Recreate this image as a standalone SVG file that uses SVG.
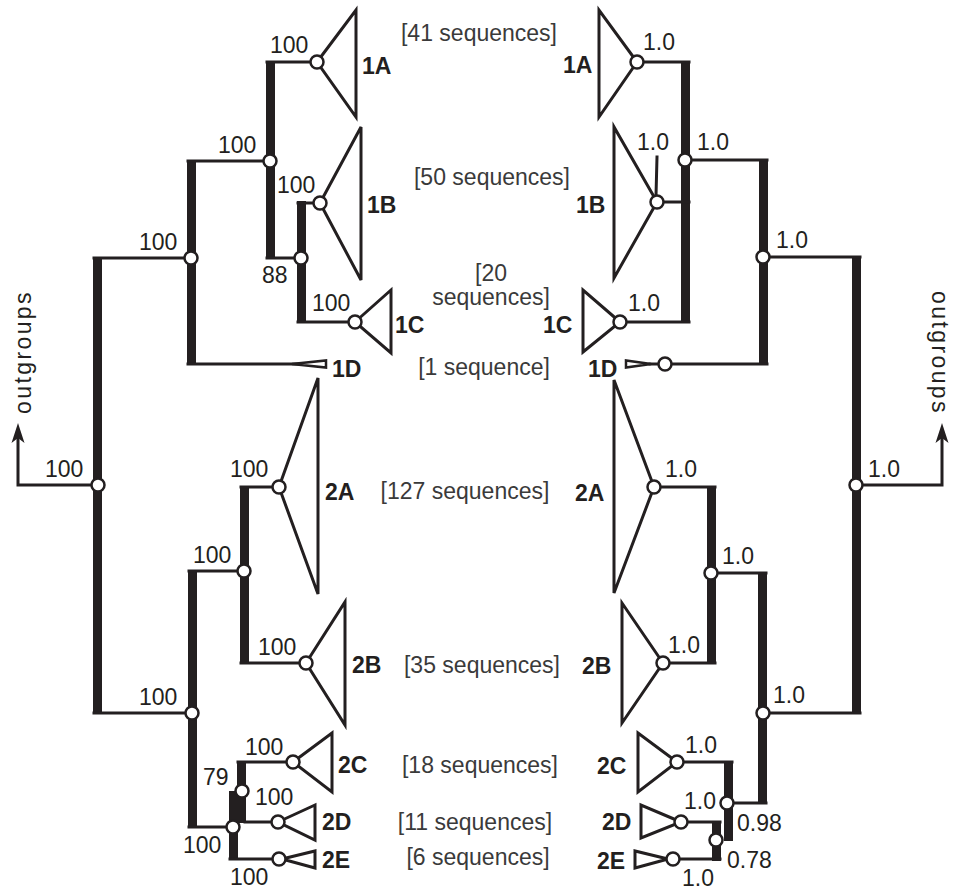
<svg xmlns="http://www.w3.org/2000/svg" width="954" height="893" viewBox="0 0 954 893">
<style>
.ln{stroke:#231f20;stroke-width:3;fill:none;stroke-linecap:square}
.bar{fill:#231f20}
.tri{fill:#fff;stroke:#231f20;stroke-width:3;stroke-linejoin:miter}
.nd{fill:#fff;stroke:#231f20;stroke-width:2.5}
text{font-family:"Liberation Sans",Arial,Helvetica,sans-serif;font-size:23px;fill:#231f20}
.b{font-weight:bold}
.s{fill:#3a3a3a;text-anchor:middle}
.e{text-anchor:end}
.og{font-size:23px;letter-spacing:2.4px;text-anchor:middle}
</style>
<defs>
<marker id="arr" markerUnits="userSpaceOnUse" viewBox="-16 -8 24 16" refX="0" refY="0" markerWidth="24" markerHeight="16" orient="auto">
<path d="M7,0 L-13,-6.5 L-8,0 L-13,6.5 Z" fill="#231f20"/>
</marker>
</defs>
<rect width="954" height="893" fill="#fff"/>

<g id="connectors">
<rect class="bar" x="266" y="61" width="9" height="198"/>
<rect class="bar" x="297" y="201" width="9" height="122"/>
<rect class="bar" x="187" y="160" width="9" height="205"/>
<rect class="bar" x="93" y="257" width="9" height="457"/>
<rect class="bar" x="240" y="486" width="9" height="178"/>
<rect class="bar" x="188" y="570" width="9" height="258"/>
<rect class="bar" x="237" y="761" width="9" height="62"/>
<rect class="bar" x="229" y="791" width="9" height="69"/>
<path class="ln" d="M267,62H317 M267,258H301 M298,203H320 M298,322H355 M188,161H270 M188,364H300 M94,258H191 M94,713H192 M241,487H279 M241,663H306 M189,571H244 M189,827H233 M238,762H293 M245,822H278 M230,859H279"/>
<path class="ln" d="M98,485H18V430" marker-end="url(#arr)" style="stroke-linecap:butt"/>
<rect class="bar" x="681" y="61" width="9" height="262"/>
<rect class="bar" x="759" y="159" width="9" height="206"/>
<rect class="bar" x="852" y="256" width="9" height="458"/>
<rect class="bar" x="707" y="486" width="9" height="178"/>
<rect class="bar" x="758" y="572" width="9" height="232"/>
<rect class="bar" x="724" y="761" width="9" height="80"/>
<rect class="bar" x="712" y="821" width="9" height="40"/>
<path class="ln" d="M637,62H689 M657,202H689 M620,322H689 M685,160H767 M650,364H767 M763,257H860 M763,713H860 M654,487H715 M663,663H715 M711,573H766 M677,762H732 M727,803H766 M681,822H720 M673,859H720 M657,157L656,196"/>
<path class="ln" d="M856,485H942V430" marker-end="url(#arr)" style="stroke-linecap:butt"/>
</g>

<g id="L1A"><polygon class="tri" points="317,62 356,10 356,117"/><text class="b" x="362" y="74">1A</text></g>
<g id="L1B"><polygon class="tri" points="320,203 361,127 361,280"/><text class="b" x="367" y="213">1B</text></g>
<g id="L1C"><polygon class="tri" points="355,322 391,290 391,353"/><text class="b" x="395" y="333">1C</text></g>
<g id="L1D"><polygon class="tri" points="292,364 326,360.5 326,367.5" style="stroke-width:2.5"/><text class="b" x="332" y="377">1D</text></g>
<g id="L2A"><polygon class="tri" points="279,487 318,378 318,594"/><text class="b" x="325" y="500">2A</text></g>
<g id="L2B"><polygon class="tri" points="306,663 345,602 345,725"/><text class="b" x="352" y="673">2B</text></g>
<g id="L2C"><polygon class="tri" points="293,762 332,733 332,792"/><text class="b" x="338" y="773">2C</text></g>
<g id="L2D"><polygon class="tri" points="278,822 315,805 315,840"/><text class="b" x="322" y="830">2D</text></g>
<g id="L2E"><polygon class="tri" points="282,859 315,851 315,868"/><text class="b" x="322" y="868">2E</text></g>

<g id="R1A"><polygon class="tri" points="637,62 599,10 599,117"/><text class="b" x="563" y="73">1A</text></g>
<g id="R1B"><polygon class="tri" points="657,202 614,127 614,278"/><text class="b" x="576" y="213">1B</text></g>
<g id="R1C"><polygon class="tri" points="620,322 583,290 583,352"/><text class="b" x="543" y="333">1C</text></g>
<g id="R1D"><polygon class="tri" points="651,364 626,360.5 626,367.5" style="stroke-width:2.5"/><text class="b" x="588" y="377">1D</text></g>
<g id="R2A"><polygon class="tri" points="654,487 614,380 614,593"/><text class="b" x="575" y="501">2A</text></g>
<g id="R2B"><polygon class="tri" points="663,663 622,603 622,723"/><text class="b" x="582" y="674">2B</text></g>
<g id="R2C"><polygon class="tri" points="677,762 638,733 638,792"/><text class="b" x="597" y="774">2C</text></g>
<g id="R2D"><polygon class="tri" points="681,822 641,805 641,838"/><text class="b" x="602" y="830">2D</text></g>
<g id="R2E"><polygon class="tri" points="668,859 635,851 635,868"/><text class="b" x="597" y="869">2E</text></g>

<g id="counts">
<text class="s" x="479" y="41">[41 sequences]</text>
<text class="s" x="492" y="185">[50 sequences]</text>
<text class="s" x="491" y="281">[20</text>
<text class="s" x="491" y="305">sequences]</text>
<text class="s" x="484" y="375">[1 sequence]</text>
<text class="s" x="465" y="499">[127 sequences]</text>
<text class="s" x="482" y="673">[35 sequences]</text>
<text class="s" x="480" y="773">[18 sequences]</text>
<text class="s" x="475" y="830">[11 sequences]</text>
<text class="s" x="478" y="865">[6 sequences]</text>
</g>

<g id="outL"><text class="og" transform="translate(31,352) rotate(-90)">outgroups</text></g>
<g id="outR"><text class="og" transform="translate(932,353) rotate(90)">outgroups</text></g>

<g id="nL1A"><circle class="nd" cx="317" cy="62" r="6.5"/><text x="270" y="53">100</text></g>
<g id="nL1AB"><circle class="nd" cx="270" cy="161" r="6.5"/><text x="218" y="153">100</text></g>
<g id="nL1B"><circle class="nd" cx="320" cy="203" r="6.5"/><text x="277" y="193">100</text></g>
<g id="nL88"><circle class="nd" cx="301" cy="258" r="6.5"/><text x="262" y="283">88</text></g>
<g id="nL1C"><circle class="nd" cx="355" cy="322" r="6.5"/><text x="312" y="311">100</text></g>
<g id="nL1"><circle class="nd" cx="191" cy="258" r="6.5"/><text x="139" y="250">100</text></g>
<g id="nLroot"><circle class="nd" cx="98" cy="485" r="6.5"/><text x="45" y="477">100</text></g>
<g id="nL2A"><circle class="nd" cx="279" cy="487" r="6.5"/><text x="230" y="477">100</text></g>
<g id="nL2AB"><circle class="nd" cx="244" cy="571" r="6.5"/><text x="193" y="563">100</text></g>
<g id="nL2B"><circle class="nd" cx="306" cy="663" r="6.5"/><text x="258" y="655">100</text></g>
<g id="nL2"><circle class="nd" cx="192" cy="713" r="6.5"/><text x="139" y="705">100</text></g>
<g id="nL2C"><circle class="nd" cx="293" cy="762" r="6.5"/><text x="245" y="755">100</text></g>
<g id="nL79"><circle class="nd" cx="242" cy="791" r="6.5"/><text x="203" y="785">79</text></g>
<g id="nL2D"><circle class="nd" cx="278" cy="822" r="6.5"/><text x="255" y="805">100</text></g>
<g id="nL2CDE"><circle class="nd" cx="233" cy="827" r="6.5"/><text x="183" y="853">100</text></g>
<g id="nL2E"><circle class="nd" cx="279" cy="859" r="6.5"/><text x="230" y="885">100</text></g>

<g id="nR1A"><circle class="nd" cx="637" cy="62" r="6.5"/><text x="643" y="50">1.0</text></g>
<g id="nR1B"><circle class="nd" cx="657" cy="202" r="6.5"/><text x="637" y="150">1.0</text></g>
<g id="nR1AB"><circle class="nd" cx="685" cy="160" r="6.5"/><text x="697" y="150">1.0</text></g>
<g id="nR1C"><circle class="nd" cx="620" cy="322" r="6.5"/><text x="628" y="311">1.0</text></g>
<g id="nR1D"><circle class="nd" cx="665" cy="364" r="6.5"/></g>
<g id="nR1"><circle class="nd" cx="763" cy="257" r="6.5"/><text x="776" y="248">1.0</text></g>
<g id="nRroot"><circle class="nd" cx="856" cy="485" r="6.5"/><text x="868" y="477">1.0</text></g>
<g id="nR2A"><circle class="nd" cx="654" cy="487" r="6.5"/><text x="665" y="477">1.0</text></g>
<g id="nR2AB"><circle class="nd" cx="711" cy="573" r="6.5"/><text x="722" y="564">1.0</text></g>
<g id="nR2B"><circle class="nd" cx="663" cy="663" r="6.5"/><text x="668" y="653">1.0</text></g>
<g id="nR2"><circle class="nd" cx="763" cy="713" r="6.5"/><text x="773" y="703">1.0</text></g>
<g id="nR2C"><circle class="nd" cx="677" cy="762" r="6.5"/><text x="685" y="753">1.0</text></g>
<g id="nR2CDE"><circle class="nd" cx="727" cy="803" r="6.5"/><text class="e" x="716" y="809">1.0</text><text x="737" y="831">0.98</text></g>
<g id="nR2D"><circle class="nd" cx="681" cy="822" r="6.5"/></g>
<g id="nR2DE"><circle class="nd" cx="716" cy="840" r="6.5"/><text x="727" y="868">0.78</text></g>
<g id="nR2E"><circle class="nd" cx="673" cy="859" r="6.5"/><text x="682" y="886">1.0</text></g>
</svg>
